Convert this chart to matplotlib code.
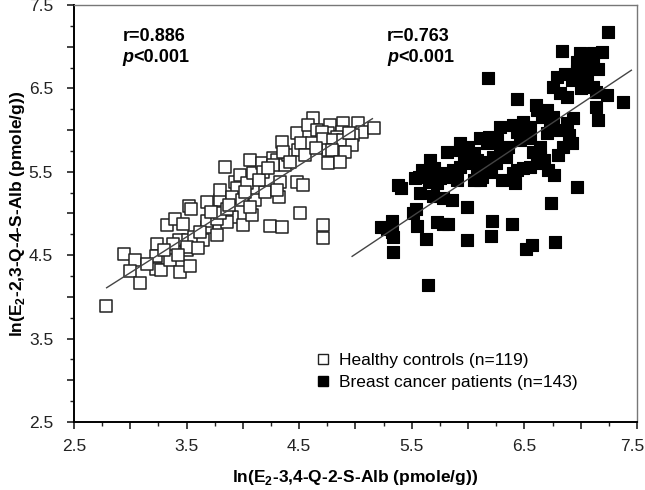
import matplotlib.pyplot as plt
from matplotlib.ticker import MultipleLocator, FuncFormatter
from matplotlib.lines import Line2D

plt.rcParams['font.family'] = ['Liberation Sans', 'DejaVu Sans']
plt.rcParams['mathtext.fontset'] = 'custom'
plt.rcParams['mathtext.rm'] = 'Liberation Sans'
plt.rcParams['mathtext.bf'] = 'Liberation Sans:bold'

# healthy controls (open squares)
healthy_x = [2.78, 2.94, 3.04, 3.00, 3.09, 3.24, 3.23, 3.23, 3.27, 3.33,
             3.40, 3.47, 3.35, 3.43, 3.51, 3.44, 3.52, 3.54, 3.50, 3.53,
             3.57, 3.65, 3.68, 3.68, 3.80, 3.80, 3.90, 3.86, 3.77, 3.68,
             3.77, 3.84, 3.80, 3.93, 3.97, 3.95, 3.90, 4.00, 3.99, 4.04,
             4.06, 4.09, 4.11, 4.08, 4.17, 4.18, 4.20, 4.24, 4.35, 4.27,
             4.30, 4.33, 4.32, 4.35, 4.37, 4.40, 4.48, 4.49, 4.48, 4.53,
             4.51, 4.30, 3.86, 4.06, 3.38, 3.50, 3.60, 3.42,
             4.62, 4.58, 4.66, 4.77, 4.76, 4.70, 4.89, 4.88, 4.84, 5.02,
             5.06, 5.16, 4.98, 4.52, 4.61, 4.71, 4.80, 4.89, 4.97, 4.36,
             4.76, 4.79, 4.91, 4.27, 4.76, 4.86, 4.71, 4.71,
             3.62, 3.72, 3.88, 4.02, 4.14, 4.22, 4.42, 4.55, 4.65, 4.94,
             3.30, 3.15]
healthy_y = [3.89, 4.51, 4.44, 4.31, 4.17, 4.63, 4.49, 4.33, 4.32, 4.86,
             4.93, 4.88, 4.44, 4.68, 4.68, 4.30, 5.09, 5.05, 4.56, 4.37,
             4.72, 4.68, 4.84, 5.14, 5.16, 5.28, 4.96, 4.90, 4.74, 4.91,
             4.93, 5.56, 5.01, 5.38, 5.46, 5.31, 5.20, 4.86, 5.16, 5.37,
             5.64, 5.49, 5.16, 4.98, 5.61, 5.50, 5.26, 4.85, 4.84, 5.67,
             5.64, 5.38, 5.20, 5.86, 5.58, 5.70, 5.96, 5.76, 5.38, 5.34,
             5.01, 5.28, 5.05, 5.08, 4.64, 4.60, 4.59, 4.50,
             6.15, 6.06, 6.00, 6.06, 5.97, 5.98, 6.09, 5.98, 5.92, 6.09,
             5.98, 6.03, 5.94, 5.85, 5.85, 5.89, 5.88, 5.88, 5.82, 5.74,
             5.76, 5.76, 5.74, 5.58, 5.61, 5.62, 4.86, 4.71,
             4.78, 5.02, 5.10, 5.26, 5.40, 5.55, 5.62, 5.70, 5.78, 5.96,
             4.56, 4.40]

# breast cancer patients (filled squares)
cancer_x = [7.24, 6.83, 6.99, 7.11, 7.19, 6.97, 7.04, 7.11, 7.15, 6.97,
            7.06, 6.79, 6.86, 6.75, 6.82, 6.88, 7.02, 7.11, 7.14, 7.23,
            7.38, 7.14, 7.15, 6.18, 6.43, 6.61, 6.70, 6.75, 6.66, 6.93,
            6.28, 6.49, 6.40, 6.55, 6.73, 6.82, 6.88, 6.43, 6.49, 6.26,
            6.11, 6.19, 6.17, 6.92, 6.84, 6.90, 6.64, 6.58, 6.64, 6.67,
            6.61, 6.28, 6.34, 6.22, 6.46, 5.93, 5.81, 5.66, 5.96, 6.08,
            6.02, 6.55, 6.49, 6.43, 6.40, 6.71, 6.76, 6.97, 6.74, 6.30,
            6.42, 6.08, 6.11, 5.87, 5.81, 5.75, 5.68, 5.72, 5.65, 5.59,
            5.56, 5.53, 5.38, 5.40, 5.57, 5.69, 5.78, 5.86, 5.99, 5.54,
            5.51, 5.32, 5.23, 5.28, 5.32, 5.33, 5.33, 5.55, 5.72, 5.78,
            5.82, 5.63, 5.99, 6.21, 6.20, 6.39, 6.57, 6.51, 6.77, 5.64,
            5.99, 5.93, 6.11, 6.05, 6.12, 5.93, 5.78,
            6.00, 6.05, 6.15, 6.25, 6.35, 6.55, 6.70, 6.80, 7.00, 7.05,
            6.92, 5.90, 5.70, 6.20, 6.60]
cancer_y = [7.18, 6.95, 6.92, 6.92, 6.94, 6.82, 6.77, 6.79, 6.73, 6.71,
            6.64, 6.64, 6.67, 6.52, 6.44, 6.40, 6.56, 6.52, 6.46, 6.42,
            6.34, 6.28, 6.12, 6.62, 6.37, 6.24, 6.24, 6.16, 6.16, 6.14,
            6.04, 6.10, 6.06, 6.04, 6.03, 6.00, 6.09, 5.98, 5.96, 5.88,
            5.90, 5.92, 5.84, 5.84, 5.80, 5.94, 5.80, 5.74, 5.68, 5.64,
            5.60, 5.76, 5.68, 5.68, 5.88, 5.76, 5.74, 5.64, 5.64, 5.64,
            5.60, 5.56, 5.54, 5.52, 5.48, 5.52, 5.46, 5.32, 5.12, 5.40,
            5.36, 5.52, 5.40, 5.52, 5.44, 5.42, 5.40, 5.36, 5.38, 5.52,
            5.44, 5.42, 5.34, 5.31, 5.24, 5.21, 5.19, 5.16, 5.08, 5.05,
            5.00, 4.91, 4.84, 4.81, 4.78, 4.72, 4.54, 4.85, 4.90, 4.88,
            4.87, 4.70, 4.68, 4.91, 4.73, 4.87, 4.62, 4.57, 4.66, 4.14,
            5.70, 5.56, 5.56, 5.40, 5.44, 5.85, 5.48,
            5.80, 5.72, 5.62, 5.60, 5.80, 5.90, 5.96, 5.70, 6.50, 6.90,
            6.60, 5.40, 5.55, 5.50, 6.30]

# regression lines: (slope, intercept, x start, x end)
healthy_fit = (0.859, 1.713, 2.79, 5.15)
cancer_fit = (0.900, 0.013, 4.97, 7.45)

fig = plt.figure(figsize=(6.45, 4.9), dpi=100)
ax = fig.add_axes([0.1147, 0.1388, 0.8729, 0.851])

ax.scatter(healthy_x, healthy_y, s=68, marker='s', facecolors='white',
           edgecolors='#222222', linewidths=1.1, zorder=2)
ax.scatter(cancer_x, cancer_y, s=68, marker='s', facecolors='black',
           edgecolors='black', linewidths=0.8, zorder=3)

for slope, icpt, x0, x1 in (healthy_fit, cancer_fit):
    ax.plot([x0, x1], [slope * x0 + icpt, slope * x1 + icpt],
            color='#444444', lw=1.0, zorder=4)

ax.set_xlim(2.5, 7.5)
ax.set_ylim(2.5, 7.5)


def tick_fmt(skip=None):
    # label only 2.5, 3.5, ... (optionally leave one out)
    def f(v, pos):
        if abs((v - 2.5) % 1) > 1e-6 or (skip is not None and abs(v - skip) < 1e-6):
            return ''
        return f'{v:.1f}'
    return FuncFormatter(f)


for axis in (ax.xaxis, ax.yaxis):
    axis.set_major_locator(MultipleLocator(0.5))
    axis.set_minor_locator(MultipleLocator(0.25))
ax.xaxis.set_major_formatter(tick_fmt(skip=7.5))
ax.yaxis.set_major_formatter(tick_fmt())
ax.tick_params(which='major', length=5, width=1.2, labelsize=12.5,
               direction='out', colors='#222222')
ax.tick_params(axis='x', which='major', pad=7)
ax.tick_params(axis='y', which='major', pad=10)
ax.tick_params(which='minor', length=3, width=1.0, direction='out',
               colors='#222222')

# last x tick label, pulled in so it stays inside the picture
ax.annotate('7.5', xy=(7.5, 0), xycoords=('data', 'axes fraction'),
            xytext=(5, -12), textcoords='offset points',
            ha='right', va='top', fontsize=12.5, color='#222222')

for side in ('left', 'bottom'):
    ax.spines[side].set_linewidth(1.4)
for side in ('top', 'right'):
    ax.spines[side].set_linewidth(1.0)
    ax.spines[side].set_color('#777777')

ax.set_xlabel(r'ln(E$_\mathbf{2}$-3,4-Q-2-S-Alb (pmole/g))',
              fontsize=12.5, fontweight='bold', labelpad=10)
ax.set_ylabel(r'ln(E$_\mathbf{2}$-2,3-Q-4-S-Alb (pmole/g))',
              fontsize=12.5, fontweight='bold', labelpad=1)

for x, y, r in ((2.93, 7.12, 'r=0.886'), (5.28, 7.12, 'r=0.763')):
    ax.text(x, y, r, fontsize=13, fontweight='bold', va='center', ha='left')
    t = ax.text(x, y - 0.25, 'p', fontsize=13, fontweight='bold',
                style='italic', va='center', ha='left')
    ax.annotate('<0.001', xy=(1, 0), xycoords=t, fontsize=13,
                fontweight='bold', va='bottom', ha='left')

handles = [
    Line2D([], [], marker='s', ls='', markersize=7, markerfacecolor='white',
           markeredgecolor='#222222', markeredgewidth=1.0),
    Line2D([], [], marker='s', ls='', markersize=7, markerfacecolor='black',
           markeredgecolor='black'),
]
ax.legend(handles, ['Healthy controls (n=119)', 'Breast cancer patients (n=143)'],
          loc='lower left', bbox_to_anchor=(0.40, 0.04), frameon=False,
          fontsize=12.5, handletextpad=0.4, labelspacing=0.38,
          handlelength=1.0)

fig.savefig('out.png', dpi=100)
